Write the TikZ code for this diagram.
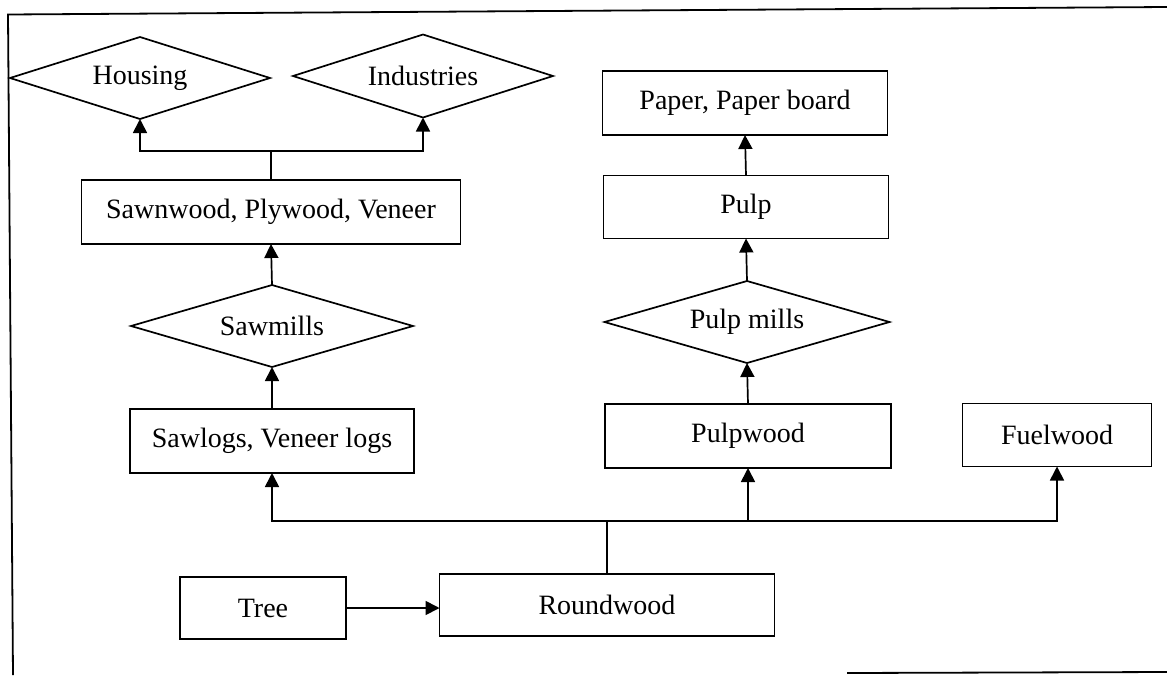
\documentclass[tikz,border=0pt]{standalone}
\usepackage{fontspec}
\setmainfont{Liberation Serif}
\usetikzlibrary{shapes.geometric,arrows.meta}
\begin{document}
\begin{tikzpicture}[x=1pt,y=-1pt,
  every node/.style={font=\fontsize{28}{33}\selectfont, inner sep=0pt, outer sep=0pt},
  boxnode/.style={draw, line width=1.7pt, rectangle},
  dianode/.style={draw, line width=1.7pt, diamond, shape aspect=3.3},
  conn/.style={line width=1.7pt},
  arr/.style={line width=1.7pt, -{Triangle[length=14pt,width=14pt]}},
  framestyle/.style={line width=1.8pt}]
\useasboundingbox (0,0) rectangle (1167,675);
% frame
\draw[framestyle] (13,675) -- (8,14.5) -- (1167,7);
\draw[framestyle] (847,673) -- (1167,672);
% nodes
\node[dianode, minimum width=260pt, minimum height=82pt] (housing) at (140,78) {Housing};
\node[dianode, minimum width=260pt, minimum height=83pt] (industries) at (423,76) {Industries};
\node[boxnode, minimum width=379pt, minimum height=64pt] (sawn) at (271,212) {Sawnwood, Plywood, Veneer};
\node[dianode, minimum width=282pt, minimum height=82pt] (sawmills) at (272,326) {Sawmills};
\node[boxnode, minimum width=284pt, minimum height=64pt] (sawlogs) at (272,441) {Sawlogs, Veneer logs};
\node[boxnode, minimum width=285pt, minimum height=64pt] (paper) at (745,103) {Paper, Paper board};
\node[boxnode, minimum width=285pt, minimum height=63pt] (pulp) at (746,207) {Pulp};
\node[dianode, minimum width=285pt, minimum height=82pt] (pulpmills) at (747,322) {Pulp mills};
\node[boxnode, minimum width=286pt, minimum height=64pt] (pulpwood) at (748,436) {Pulpwood};
\node[boxnode, minimum width=189pt, minimum height=63pt] (fuel) at (1057,435) {Fuelwood};
\node[boxnode, minimum width=166pt, minimum height=62pt] (tree) at (263,608) {Tree};
\node[boxnode, minimum width=335pt, minimum height=62pt] (round) at (607,605) {Roundwood};
% junctions
\coordinate (j1) at (271,151);
\coordinate (j2) at (607,521);
% connectors
\draw[conn] (sawn.north) -- (j1);
\draw[arr] (j1) -| (housing.south);
\draw[arr] (j1) -| (industries.south);
\draw[arr] (sawmills.north) -- (sawn.south);
\draw[arr] (sawlogs.north) -- (sawmills.south);
\draw[conn] (round.north) -- (j2);
\draw[arr] (j2) -| (sawlogs.south);
\draw[arr] (j2) -| (pulpwood.south);
\draw[arr] (j2) -| (fuel.south);
\draw[arr] (pulpwood.north) -- (pulpmills.south);
\draw[arr] (pulpmills.north) -- (pulp.south);
\draw[arr] (pulp.north) -- (paper.south);
\draw[arr] (tree.east) -- (tree.east -| round.west);
\end{tikzpicture}
\end{document}
